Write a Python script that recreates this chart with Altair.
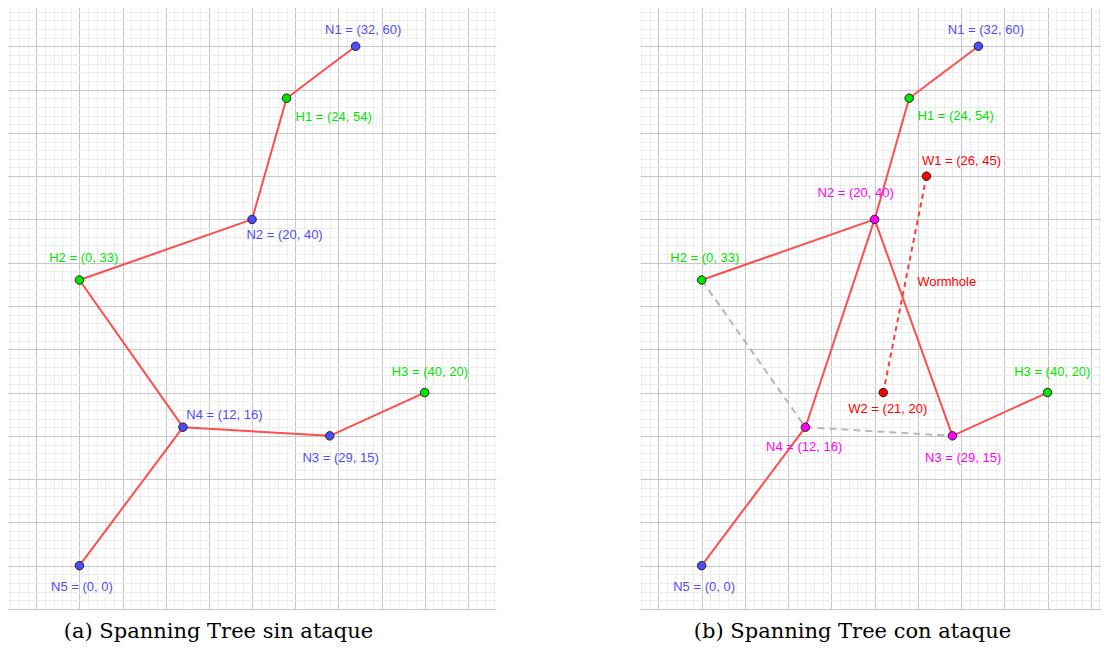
import altair as alt
import pandas as pd

# ---------------- data: panel (a) ----------------
a_names = ["N1", "H1", "N2", "H2", "N4", "N3", "H3", "N5"]
a_x = [32, 24, 20, 0, 12, 29, 40, 0]
a_y = [60, 54, 40, 33, 16, 15, 20, 0]
a_role = ["N", "H", "N", "H", "N", "N", "H", "N"]
# label anchor offsets (data units) relative to each point
a_lab_dx = [-3.55, 1.04, -0.65, -3.50, 0.39, -3.16, -3.82, -3.28]
a_lab_dy = [1.85, -2.12, -1.85, 2.60, 1.42, -2.60, 2.40, -2.43]
a_edges = [("N1", "H1"), ("H1", "N2"), ("N2", "H2"), ("H2", "N4"),
           ("N4", "N3"), ("N3", "H3"), ("N4", "N5")]

# ---------------- data: panel (b) ----------------
b_names = ["N1", "H1", "W1", "N2", "H2", "W2", "N4", "N3", "H3", "N5"]
b_x = [32, 24, 26, 20, 0, 21, 12, 29, 40, 0]
b_y = [60, 54, 45, 40, 33, 20, 16, 15, 20, 0]
b_role = ["N", "H", "W", "A", "H", "W", "A", "A", "H", "N"]
b_lab_dx = [-3.54, 0.97, -0.53, -6.60, -3.63, -4.05, -4.56, -3.16, -3.86, -3.29]
b_lab_dy = [1.85, -2.04, 1.70, 3.00, 2.58, -1.85, -2.23, -2.51, 2.40, -2.43]
b_edges_solid = [("N1", "H1"), ("H1", "N2"), ("N2", "H2"), ("N2", "N4"),
                 ("N2", "N3"), ("N3", "H3"), ("N4", "N5")]
b_edges_gray = [("H2", "N4"), ("N4", "N3")]
b_edges_worm = [("W1", "W2")]
worm_text = ["Wormhole"]
worm_x = [24.92]
worm_y = [32.77]

captions = ["(a) Spanning Tree sin ataque", "(b) Spanning Tree con ataque"]

# ---------------- styling ----------------
role_domain = ["N", "H", "W", "A"]
role_range = ["#4d4dff", "#00e600", "#ff0000", "#ff00ff"]
EDGE_RED = "#ff4d4d"


def nodes_df(names, xs, ys, roles, ldx, ldy):
    df = pd.DataFrame({"name": names, "x": xs, "y": ys, "role": roles,
                       "ldx": ldx, "ldy": ldy})
    df["lx"] = df["x"] + df["ldx"]
    df["ly"] = df["y"] + df["ldy"]
    df["label"] = [f"{n} = ({x}, {y})" for n, x, y in zip(names, xs, ys)]
    return df


def edges_df(edges, nodes):
    pos = {r.name: (r.x, r.y) for r in nodes.itertuples()}
    rows = []
    for s, t in edges:
        rows.append({"x": pos[s][0], "y": pos[s][1], "x2": pos[t][0], "y2": pos[t][1]})
    return pd.DataFrame(rows)


def grid_axis(lo, hi):
    return alt.Axis(values=list(range(lo, hi + 1)), grid=True,
                    gridColor={"condition": {"test": "datum.value % 5 === 0", "value": "#c6c6c6"},
                               "value": "#ececec"},
                    gridWidth=1, labels=False, ticks=False, domain=False,
                    title=None, minExtent=0, maxExtent=0)


def panel(nodes, edge_layers, xdom, width, caption, cap_dx, extra=None):
    xs = alt.Scale(domain=xdom, nice=False, zero=False)
    ys = alt.Scale(domain=[-5, 65], nice=False, zero=False)
    xax = grid_axis(int(-(-xdom[0] // 1)), int(xdom[1] // 1))
    yax = grid_axis(-5, 65)

    def X(f):
        return alt.X(f, type="quantitative", scale=xs, axis=xax)

    def Y(f):
        return alt.Y(f, type="quantitative", scale=ys, axis=yax)

    layers = []
    for df, color, dash in edge_layers:
        kw = dict(color=color, strokeWidth=2)
        if dash:
            kw["strokeDash"] = dash
        layers.append(alt.Chart(df).mark_rule(**kw).encode(
            x=X("x"), y=Y("y"), x2="x2", y2="y2"))
    cscale = alt.Scale(domain=role_domain, range=role_range)
    layers.append(alt.Chart(nodes).mark_circle(size=72, stroke="#222222", strokeWidth=1, opacity=1).encode(
        x=X("x"), y=Y("y"), fill=alt.Fill("role:N", scale=cscale, legend=None)))
    layers.append(alt.Chart(nodes).mark_text(align="left", baseline="middle",
                                             font="Liberation Sans", fontSize=13).encode(
        x=X("lx"), y=Y("ly"), text="label:N",
        color=alt.Color("role:N", scale=cscale, legend=None)))
    if extra is not None:
        layers.append(alt.Chart(extra).mark_text(align="left", baseline="middle",
                                                 font="Liberation Sans", fontSize=13,
                                                 color="#ff0000").encode(
            x=X("x"), y=Y("y"), text="t:N"))
    return alt.layer(*layers).properties(
        width=width, height=606,
        title=alt.TitleParams(text=caption, orient="bottom", anchor="middle", dx=cap_dx,
                              offset=29, baseline="alphabetic", font="DejaVu Serif",
                              fontSize=21, fontWeight="normal", color="#000000"))


na = nodes_df(a_names, a_x, a_y, a_role, a_lab_dx, a_lab_dy)
nb = nodes_df(b_names, b_x, b_y, b_role, b_lab_dx, b_lab_dy)

pa = panel(na, [(edges_df(a_edges, na), EDGE_RED, None)], [-8.39, 48.26], 489, captions[0], -33)
pb = panel(nb, [(edges_df(b_edges_gray, nb), "#b8b8b8", [7, 5]),
                (edges_df(b_edges_solid, nb), EDGE_RED, None),
                (edges_df(b_edges_worm, nb), "#ff3b3b", [5, 4])],
           [-7.13, 46.18], 461, captions[1], -18,
           extra=pd.DataFrame({"t": worm_text, "x": worm_x, "y": worm_y}))

chart = alt.hconcat(pa, pb, spacing=144).properties(
    padding={"left": -1, "top": -5, "right": 0, "bottom": 1}
).configure_view(strokeWidth=0)

chart.save("out.html", embed_options={"renderer": "svg", "actions": False})
